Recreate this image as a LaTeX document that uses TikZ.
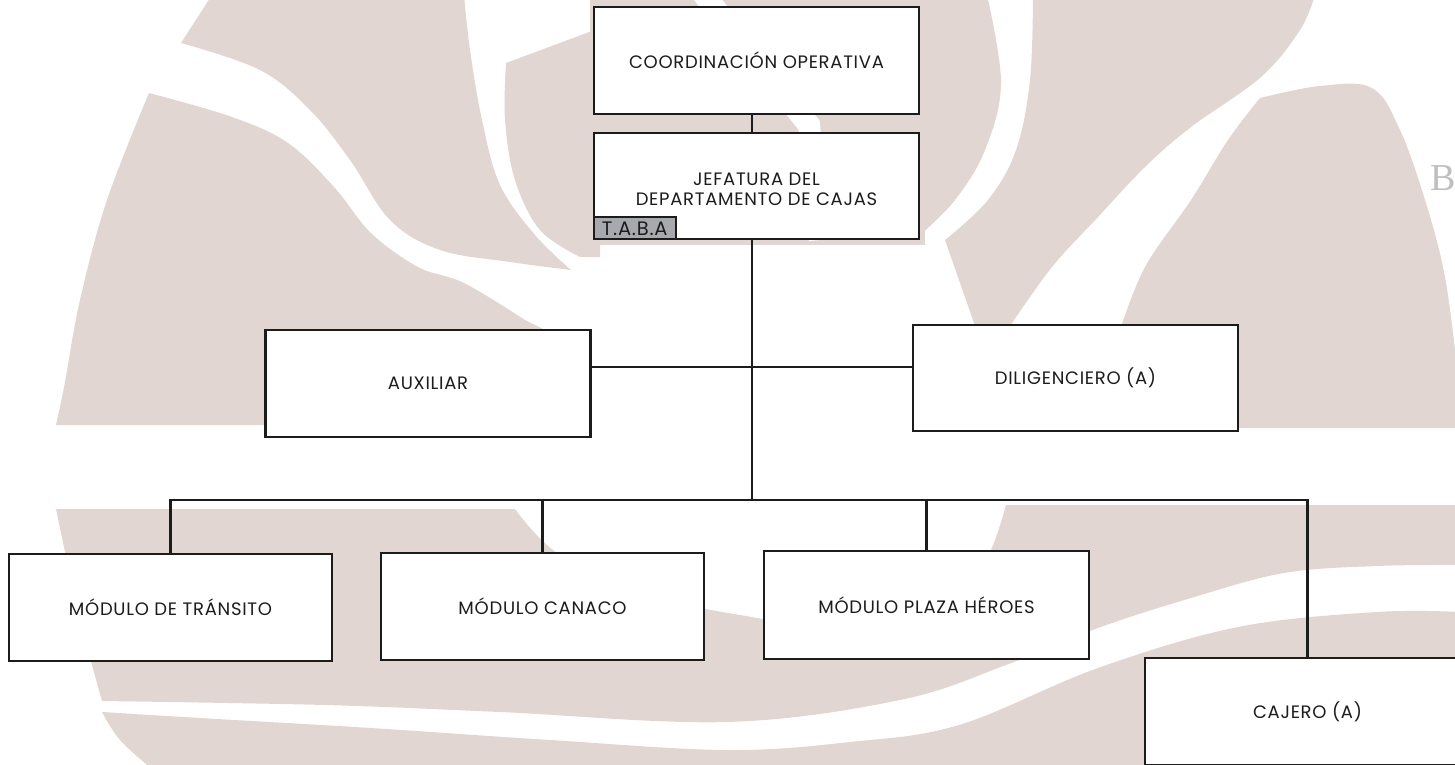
\documentclass[tikz,border=0pt]{standalone}
\usepackage{fontspec}
\setmainfont{Poppins}
\newfontfamily\boxfont{Poppins}[LetterSpace=4]
\newfontfamily\serifB{Liberation Serif}
\definecolor{wm}{HTML}{E2D6D2}
\definecolor{tabagray}{HTML}{A8A8AF}
\definecolor{ink}{HTML}{1C1C1C}
\begin{document}
\begin{tikzpicture}[x=1pt,y=-1pt,
  box/.style={draw=ink, line width=2.8pt, fill=white, minimum width=325pt,
    minimum height=107pt, inner sep=0pt, align=center,
    font=\boxfont\fontsize{18}{20}\selectfont, text=ink},
  tabbox/.style={draw=ink, line width=2.2pt, fill=tabagray, minimum width=82pt,
    minimum height=22pt, inner sep=0pt, font=\boxfont\fontsize{19.5}{19.5}\selectfont, text=ink},
  conn/.style={draw=ink, line width=2.5pt},
  wmfill/.style={fill=wm},
  smoothp/.style={smooth, tension=0.6}]
\useasboundingbox (0,0) rectangle (1455,764);
\fill[white] (0,0) rectangle (1455,764);

% ---- watermark shapes ----
% A (top-left lens)
\fill[wmfill] plot[smoothp] coordinates {(464,-5) (470,50) (482,120) (500,185) (535,235) (571,270)}
  -- plot[smoothp] coordinates {(571,270) (510,262) (440,250) (390,220) (350,160) (310,110) (260,70) (181,43)}
  -- (212,-5) -- cycle;
% B (big left)
\fill[wmfill] plot[smoothp] coordinates {(149,93) (232,117) (288,143) (334,187) (371,233) (418,267) (464,283) (525,320)}
  -- (545,330) -- (545,425) -- (56,425)
  -- plot[smoothp] coordinates {(56,425) (65,382) (80,300) (107,200) (149,93)} -- cycle;
% C (sliver left of boxes)
\fill[wmfill] plot[smoothp] coordinates {(506,63) (505,120) (515,180) (540,230) (580,257)}
  -- (600,257) -- (600,28) -- cycle;
% behind boxes
\fill[wmfill] (590,-5) rectangle (925,245);
\draw[white, line width=22pt] (700,-10) -- (809,125) -- (820,240);
% D (right of boxes)
\fill[wmfill] (919,-5) -- plot[smoothp] coordinates {(987,-5) (1001,83) (985,150) (955,200) (919,236)} -- cycle;
% E
\fill[wmfill] plot[smoothp] coordinates {(1315,-5) (1300,30) (1261,77) (1191,127) (1145,167) (1098,217) (1052,267) (1010,326)}
  -- (975,326) -- (945,240)
  -- plot[smoothp] coordinates {(945,240) (988,200) (1016,150) (1030,80) (1033,-5)} -- cycle;
% F (big right)
\fill[wmfill] plot[smoothp] coordinates {(1260,98) (1320,86) (1372,88) (1400,130) (1425,200) (1443,267) (1453,333) (1460,400)}
  -- (1460,428) -- (1110,428) -- (1120,330)
  -- plot[smoothp] coordinates {(1120,330) (1145,267) (1191,200) (1228,140) (1260,98)} -- cycle;
% lower upper band
\fill[wmfill] (56,509) -- (515,509)
  -- plot[smoothp] coordinates {(515,509) (560,555) (650,595) (740,615) (850,628) (960,600) (990,552) (1006,505)}
  -- (1460,505) -- (1460,565)
  -- plot[smoothp] coordinates {(1460,565) (1377,566) (1284,573) (1191,598) (1098,628) (1006,665) (900,700) (727,722) (500,712) (325,705) (102,701)}
  -- plot[smoothp] coordinates {(102,701) (79,615) (56,509)} -- cycle;
% lower band
\fill[wmfill] plot[smoothp] coordinates {(102,712) (200,718) (371,728) (550,740) (727,750) (850,742) (959,725) (1098,668) (1238,627) (1377,612) (1460,612)}
  -- (1460,770) -- (153,770)
  -- plot[smoothp] coordinates {(153,770) (120,740) (102,712)} -- cycle;
% partial letter at the page edge
\node[font=\serifB\fontsize{38}{38}\selectfont, text=black!25, anchor=west, inner sep=0pt] (edgeB) at (1430,178) {B};

% ---- nodes ----
\node[box] (coord) at (756.5,60.5) {COORDINACIÓN OPERATIVA};
\node[box, minimum height=106pt] (jef) at (756.5,186) {\rule{0pt}{0pt}\\[0pt]JEFATURA DEL\\DEPARTAMENTO DE CAJAS};
\node[tabbox, anchor=south west] (taba) at (jef.south west) {T.A.B.A};
\node[box] (aux) at (428,383.5) {AUXILIAR};
\node[box, minimum height=106pt] (dil) at (1075.5,378) {DILIGENCIERO (A)};
\node[box, minimum width=323pt] (tran) at (170.5,607.5) {MÓDULO DE TRÁNSITO};
\node[box, minimum width=323pt] (canaco) at (542.5,606.5) {MÓDULO CANACO};
\node[box, minimum height=108pt] (plaza) at (926.5,605) {MÓDULO PLAZA HÉROES};
\node[box] (cajero) at (1307.5,711.5) {CAJERO (A)};

% ---- connectors ----
\coordinate (trunk) at (752,500);
\coordinate (mid) at (752,367);
\draw[conn] (coord.south -| trunk) -- (jef.north -| trunk);
\draw[conn] (jef.south -| trunk) -- (trunk);
\draw[conn] (aux.east |- mid) -- (dil.west |- mid);
\draw[conn] (tran.north) |- (trunk) -| (cajero.north);
\draw[conn] (canaco.north) -- (canaco.north |- trunk);
\draw[conn] (plaza.north) -- (plaza.north |- trunk);
\end{tikzpicture}
\end{document}
